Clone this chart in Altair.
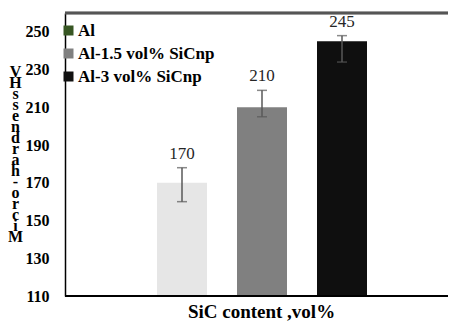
import altair as alt
import pandas as pd

categories = ["Al", "Al-1.5 vol% SiCnp", "Al-3 vol% SiCnp"]
hardness = [170, 210, 245]
err_low = [160, 205, 234]
err_high = [178, 219, 248]
bar_colors = ["#e6e6e6", "#808080", "#0f0f0f"]
legend_colors = ["#375623", "#808080", "#111111"]
y_ticks = [110, 130, 150, 170, 190, 210, 230, 250]
y_title = ["V", "H", "s", "s", "e", "n", "d", "r", "a", "h", "-", "o", "r", "c", "i", "M"]
x_title = "SiC content ,vol%"

df = pd.DataFrame({"cat": categories, "hv": hardness, "lo": err_low, "hi": err_high})

W, H = 383, 283
FONT = "Liberation Serif"

xscale = alt.Scale(paddingInner=0.375, paddingOuter=0.5, range=[52, 342])
x = alt.X(
    "cat:N",
    sort=categories,
    scale=xscale,
    axis=alt.Axis(
        labels=False, ticks=False, domain=False,
        title=x_title, titleFont=FONT, titleFontSize=19, titleFontWeight="bold",
        titleColor="black", titleX=196, titleY=15, titleBaseline="middle",
        titleAlign="center",
    ),
)
yscale = alt.Scale(domain=[110, 260], nice=False, zero=False)
y = alt.Y(
    "hv:Q",
    scale=yscale,
    axis=alt.Axis(
        values=y_ticks, grid=False, ticks=False, labelPadding=16,
        labelFont=FONT, labelFontWeight="bold", labelFontSize=16, labelColor="black",
        domainColor="black", domainWidth=1.5,
        title=y_title, titleAngle=0, titleX=-50, titleY=50, titleBaseline="top",
        titleAlign="center", titleLineHeight=11, titleFontSize=16, titleFont=FONT,
        titleFontWeight="bold", titleColor="black",
    ),
)

base = alt.Chart(df)

bars = base.mark_bar().encode(
    x=x,
    y=y,
    y2=alt.datum(110),
    color=alt.Color("cat:N", scale=alt.Scale(domain=categories, range=bar_colors), legend=None),
)

legend_layer = base.mark_square(size=0).encode(
    x=alt.X("cat:N", sort=categories),
    y=alt.Y("hv:Q", scale=yscale),
    fill=alt.Fill(
        "cat:N",
        scale=alt.Scale(domain=categories, range=legend_colors),
        legend=alt.Legend(
            orient="none", legendX=-5, legendY=9, title=None, padding=0,
            symbolType="square", symbolSize=100, symbolOpacity=1, symbolStrokeWidth=0,
            labelFont=FONT, labelFontSize=17, labelFontWeight="bold", labelColor="black",
            labelOffset=1, rowPadding=5,
        ),
    ),
)

rules = base.mark_rule(color="#595959", strokeWidth=1.5).encode(
    x=alt.X("cat:N", sort=categories),
    y=alt.Y("lo:Q", scale=yscale),
    y2="hi:Q",
)
cap_lo = base.mark_tick(color="#595959", thickness=1.5, size=10, orient="horizontal").encode(
    x=alt.X("cat:N", sort=categories),
    y=alt.Y("lo:Q", scale=yscale),
)
cap_hi = base.mark_tick(color="#595959", thickness=1.5, size=10, orient="horizontal").encode(
    x=alt.X("cat:N", sort=categories),
    y=alt.Y("hi:Q", scale=yscale),
)
labels = base.mark_text(dy=-14, fontSize=17, font=FONT, color="#262626", baseline="middle").encode(
    x=alt.X("cat:N", sort=categories),
    y=alt.Y("hi:Q", scale=yscale),
    text="hv:Q",
)
top_line = base.mark_rule(color="#555555", strokeWidth=2.5).encode(
    x=alt.value(0), x2=alt.value(W), y=alt.value(0)
)
bottom_line = base.mark_rule(color="black", strokeWidth=2).encode(
    x=alt.value(0), x2=alt.value(W), y=alt.value(H)
)

chart = (
    alt.layer(bars, legend_layer, rules, cap_lo, cap_hi, labels, top_line, bottom_line)
    .properties(
        width=W, height=H,
        autosize=alt.AutoSizeParams(type="none"),
        padding={"left": 57, "top": 5, "right": 0, "bottom": 25},
    )
    .resolve_scale(color="independent", fill="independent")
    .configure_view(stroke=None)
    .configure(background="white")
)

chart.save("out.html", embed_options={"renderer": "svg", "actions": False})
